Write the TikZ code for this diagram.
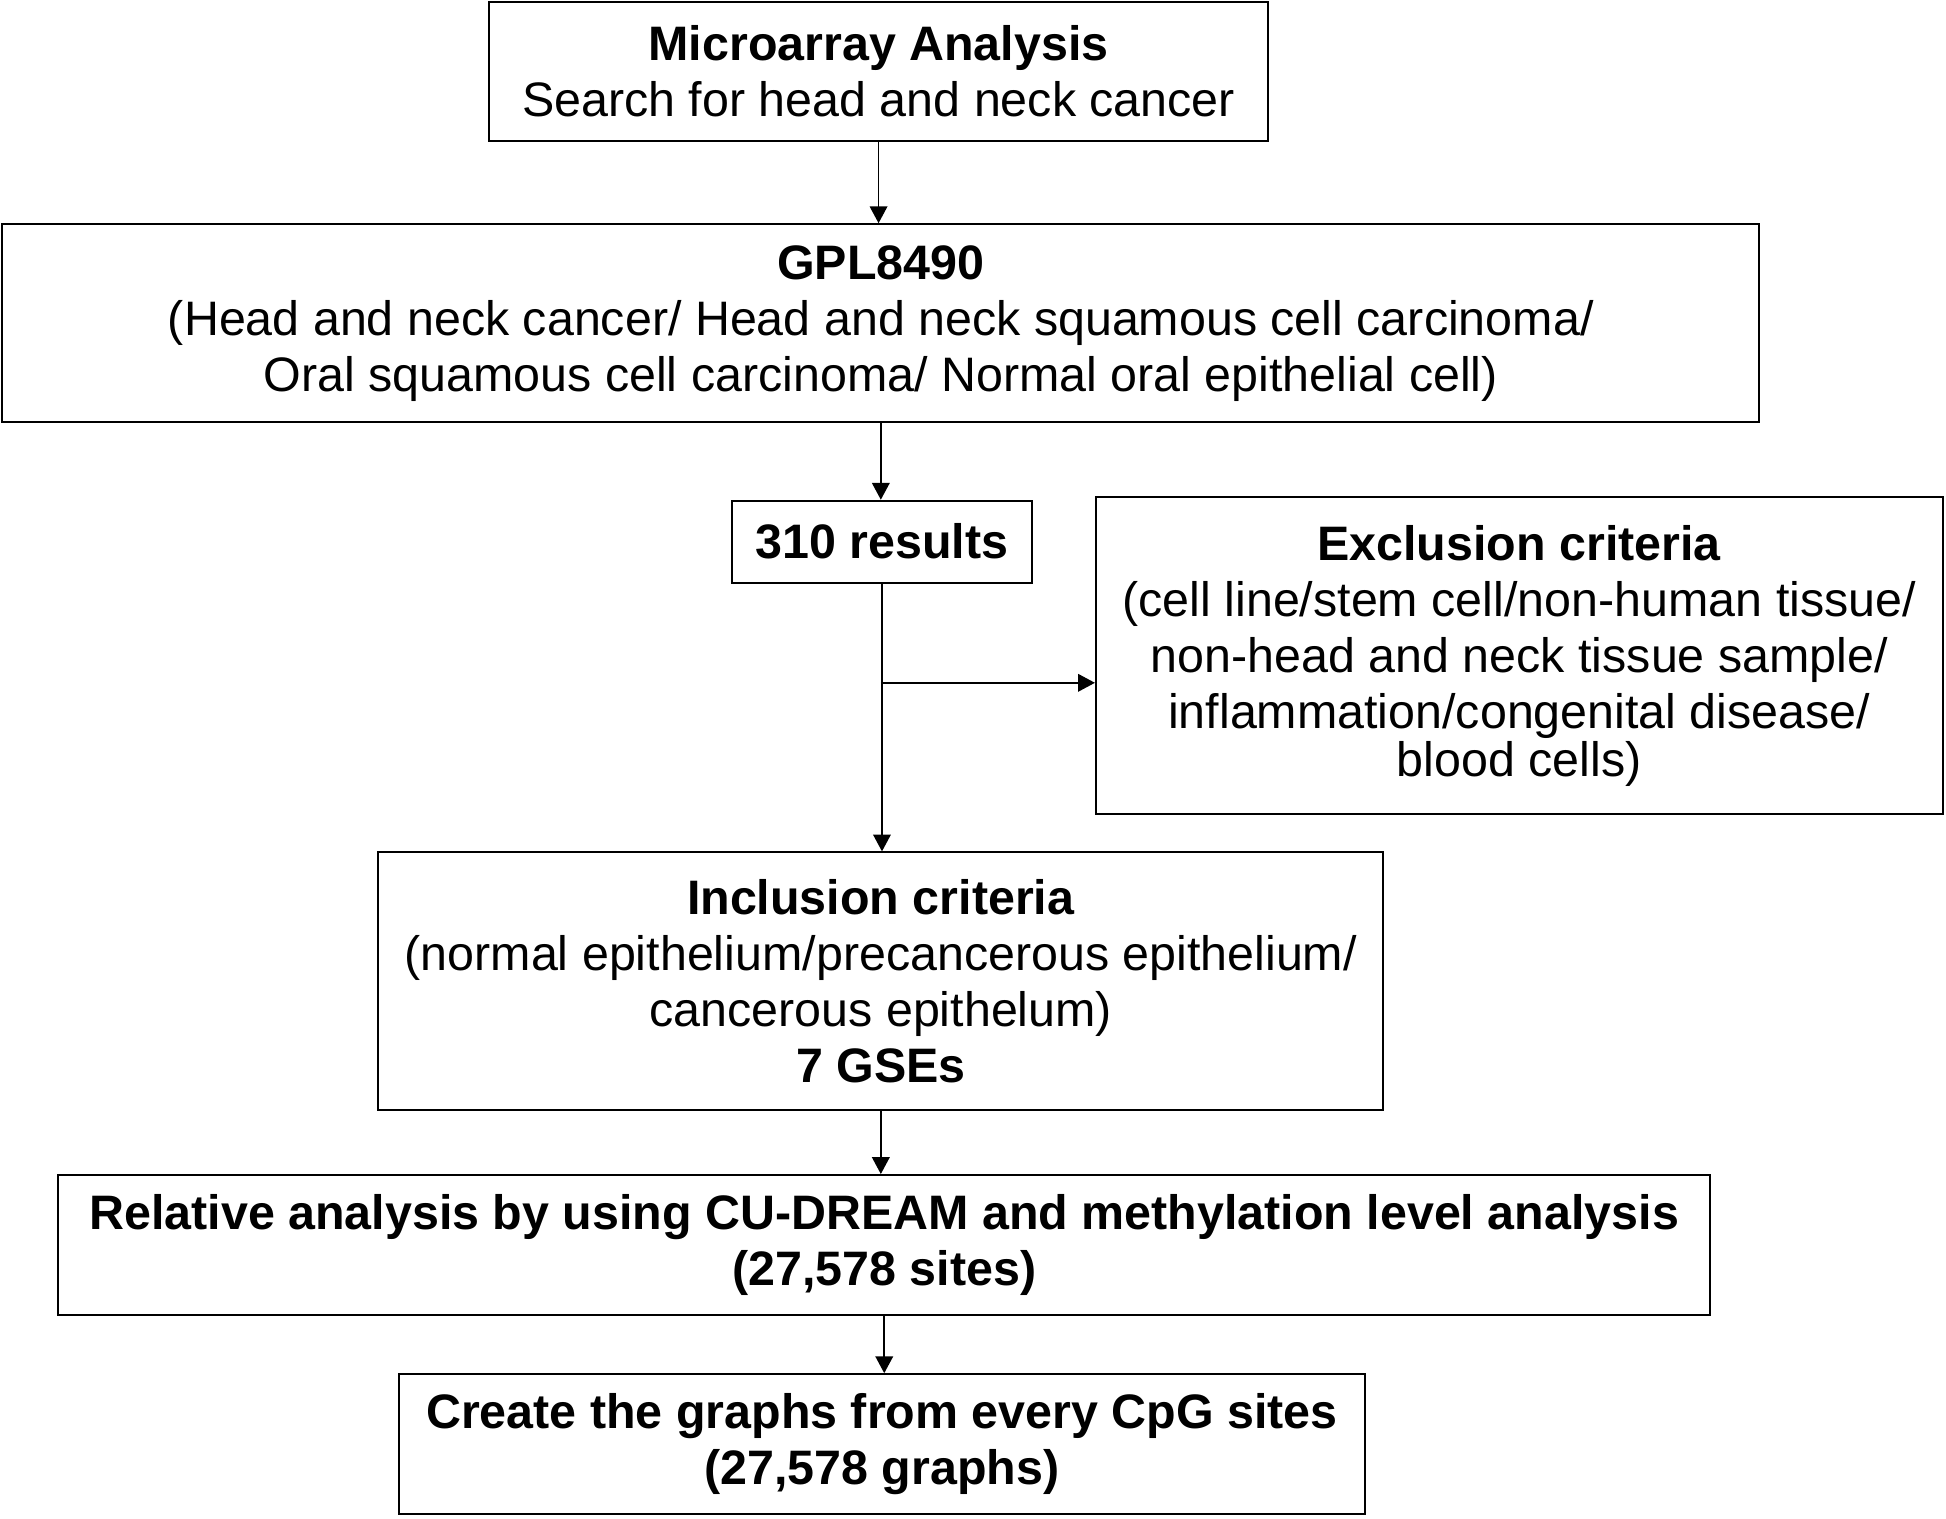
\documentclass[tikz,border=0pt]{standalone}
\usepackage{fontspec}
\setmainfont{Liberation Sans}
\usepackage{tikz}
\usetikzlibrary{arrows.meta}

\begin{document}
\begin{tikzpicture}[
  stepbox/.style={draw=cbox,line width=0.5pt,fill=white,shape=rectangle,align=center,inner sep=0pt,
    font=\fontsize{12.1}{14}\selectfont},
  flow/.style={draw=cedge,line width=0.4pt,-{Triangle[length=4.2pt,width=4.4pt]}}
]
\definecolor{cbox}{rgb}{0.0,0.0,0.0}
\definecolor{cedge}{rgb}{0.0,0.0,0.0}
%
\useasboundingbox (0,0) rectangle (17.10,-13.34);
%
\node[stepbox,minimum width=6.84cm,minimum height=1.22cm] (micro) at (7.72,-0.63)
  {\textbf{Microarray Analysis}\\Search for head and neck cancer};
\node[stepbox,minimum width=15.44cm,minimum height=1.74cm] (gpl) at (7.74,-2.84)
  {\textbf{GPL8490}\\(Head and neck cancer/ Head and neck squamous cell carcinoma/\\Oral squamous cell carcinoma/ Normal oral epithelial cell)};
\node[stepbox,minimum width=2.64cm,minimum height=0.72cm] (results) at (7.75,-4.76)
  {\textbf{310 results}};
\node[stepbox,minimum width=7.44cm,minimum height=2.78cm] (excl) at (13.35,-5.76)
  {\textbf{Exclusion criteria}\\(cell line/stem cell/non-human tissue/\\non-head and neck tissue sample/\\inflammation/congenital disease/\\[-2pt]blood cells)};
\node[stepbox,minimum width=8.83cm,minimum height=2.26cm] (incl) at (7.74,-8.62)
  {\textbf{Inclusion criteria}\\(normal epithelium/precancerous epithelium/\\cancerous epithelum)\\\textbf{7 GSEs}};
\node[stepbox,minimum width=14.52cm,minimum height=1.23cm] (rel) at (7.77,-10.94)
  {\textbf{Relative analysis by using CU-DREAM and methylation level analysis}\\\textbf{(27,578 sites)}};
\node[stepbox,minimum width=8.48cm,minimum height=1.23cm] (create) at (7.75,-12.69)
  {\textbf{Create the graphs from every CpG sites}\\\textbf{(27,578 graphs)}};
\coordinate (split) at (7.74,-6.00);
%
\draw[flow] (micro.south) -- (micro.south |- gpl.north);
\draw[flow] (gpl.south) -- (gpl.south |- results.north);
\draw[flow] (results.south) -- (results.south |- incl.north);
\draw[flow] (split) -- (split -| excl.west);
\draw[flow] (incl.south) -- (incl.south |- rel.north);
\draw[flow] (rel.south) -- (rel.south |- create.north);
%
\end{tikzpicture}
\end{document}
